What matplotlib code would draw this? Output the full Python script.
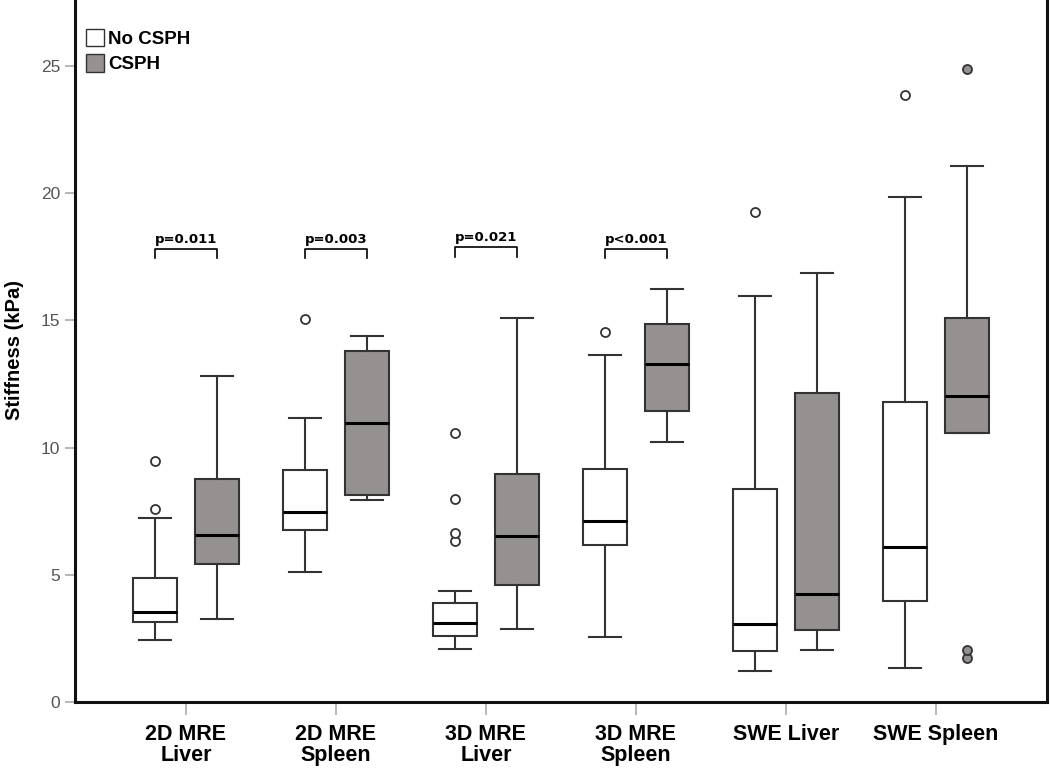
import numpy as np
import matplotlib.pyplot as plt
from matplotlib.patches import Patch

# group labels
groups = ['2D MRE\nLiver', '2D MRE\nSpleen', '3D MRE\nLiver', '3D MRE\nSpleen', 'SWE Liver', 'SWE Spleen']

# No CSPH box stats
no_lo  = [2.42, 5.11, 2.07, 2.55, 1.22, 1.35]
no_q1  = [3.15, 6.75, 2.59, 6.19, 2.02, 3.99]
no_med = [3.54, 7.46, 3.11, 7.13, 3.08, 6.08]
no_q3  = [4.89, 9.13, 3.91, 9.17, 8.38, 11.79]
no_hi  = [7.23, 11.16, 4.37, 13.65, 15.98, 19.85]
no_out = [[7.59, 9.47], [15.06], [6.32, 6.65, 7.97, 10.58], [14.56], [19.25], [23.88]]

# CSPH box stats
cs_lo  = [3.26, 7.93, 2.88, 10.22, 2.05, 10.58]
cs_q1  = [5.44, 8.15, 4.60, 11.44, 2.82, 10.58]
cs_med = [6.55, 10.96, 6.53, 13.29, 4.25, 12.02]
cs_q3  = [8.78, 13.81, 8.97, 14.86, 12.15, 15.09]
cs_hi  = [12.82, 14.38, 15.10, 16.25, 16.87, 21.06]
cs_out = [[], [], [], [], [], [1.74, 2.03, 24.88]]

# p-values over the first four groups
p_text = ['p=0.011', 'p=0.003', 'p=0.021', 'p<0.001']

plt.rcParams['font.family'] = ['Liberation Sans', 'DejaVu Sans']

def make_stats(lo, q1, med, q3, hi, out):
    return [dict(whislo=a, q1=b, med=c, q3=d, whishi=e, fliers=f)
            for a, b, c, d, e, f in zip(lo, q1, med, q3, hi, out)]

fig = plt.figure(figsize=(10.5, 7.7), dpi=100)
# top spine sits just off the canvas, as in the reference
ax = fig.add_axes([0.0714, 0.0883, 0.9256, 0.9147])

pos = np.arange(1, len(groups) + 1)
off = 0.207
w = 0.295
edge = '#333333'
gray = '#959190'

for stats, p, fc, mfc in [(make_stats(no_lo, no_q1, no_med, no_q3, no_hi, no_out), pos - off, 'white', 'white'),
                          (make_stats(cs_lo, cs_q1, cs_med, cs_q3, cs_hi, cs_out), pos + off, gray, gray)]:
    ax.bxp(stats, positions=p, widths=w, patch_artist=True, showfliers=True,
           boxprops=dict(facecolor=fc, edgecolor=edge, linewidth=1.5),
           medianprops=dict(color='black', linewidth=2.2),
           whiskerprops=dict(color=edge, linewidth=1.5),
           capprops=dict(color=edge, linewidth=1.5),
           capwidths=0.21,
           flierprops=dict(marker='o', markerfacecolor=mfc, markeredgecolor=edge,
                           markersize=6.5, markeredgewidth=1.3, linestyle='none'))

# significance brackets
for i, t in enumerate(p_text):
    x1, x2 = pos[i] - off, pos[i] + off
    yb = 17.82 if i != 2 else 17.88
    ax.plot([x1, x1, x2, x2], [yb - 0.38, yb, yb, yb - 0.38], color='black', linewidth=1.2)
    ax.text(pos[i], yb + 0.12, t, ha='center', va='bottom', fontsize=9.5,
            fontweight='bold', family=['DejaVu Sans'])

ax.set_xlim(0.26, 6.74)
ax.set_ylim(0, 27.69)
ax.set_yticks([0, 5, 10, 15, 20, 25])
ax.set_xticks(pos)
ax.set_xticklabels(groups, fontsize=15.5, fontweight='bold', linespacing=1.0)
ax.tick_params(axis='y', colors='#aaaaaa', labelcolor='#555555', labelsize=12.5,
               length=7, width=1.2)
ax.tick_params(axis='x', colors='#aaaaaa', labelcolor='black', length=9, width=1.2, pad=7)
for s in ax.spines.values():
    s.set_linewidth(2.2)
    s.set_color('#111111')

ax.set_ylabel('Stiffness (kPa)', fontsize=14.5, fontweight='bold', labelpad=12)

# legend
handles = [Patch(facecolor='white', edgecolor=edge, label='No CSPH'),
           Patch(facecolor=gray, edgecolor=edge, label='CSPH')]
leg = ax.legend(handles=handles, loc='upper left', bbox_to_anchor=(0.0, 0.972),
                frameon=False, handlelength=0.95, handleheight=1.05, handletextpad=0.2,
                labelspacing=0.35, borderpad=0.3, borderaxespad=0.3,
                prop=dict(weight='bold', size=13.5))

fig.savefig('out.png', dpi=100)
